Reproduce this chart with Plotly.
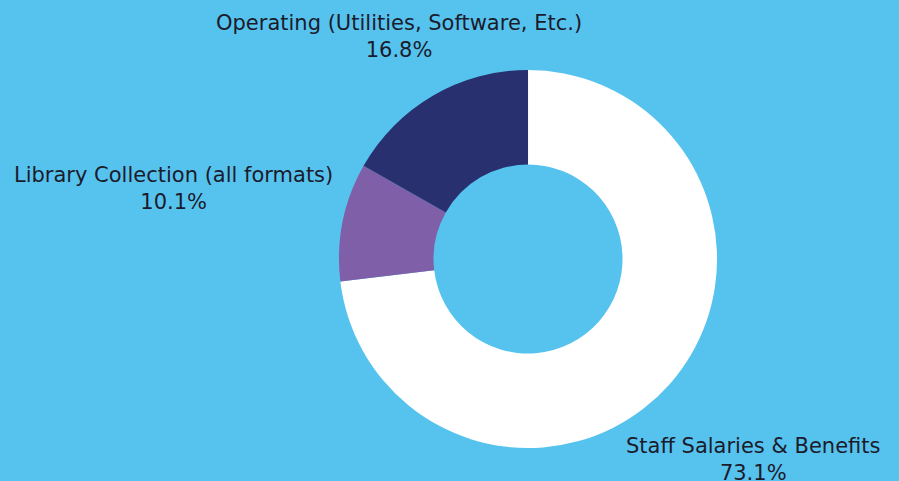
import plotly.graph_objects as go

labels = ["Staff Salaries & Benefits", "Library Collection (all formats)", "Operating (Utilities, Software, Etc.)"]
values = [73.1, 10.1, 16.8]
colors = ["#FFFFFF", "#7F5FA8", "#283070"]

# label placement (paper coords) and anchors for each slice label
label_x = [0.694, 0.3726, 0.444]
label_y = [0.0457, 0.609, 0.925]
label_anchor = ["left", "right", "center"]

fig = go.Figure(go.Pie(
    labels=labels, values=values, hole=0.5, sort=False, direction="clockwise", rotation=0,
    marker=dict(colors=colors, line=dict(width=0)),
    textposition="none",
    domain=dict(x=[0.3771, 0.7976], y=[0.0686, 0.8545]),
    showlegend=False, hoverinfo="skip"
))
total = sum(values)
for lab, v, x, y, a in zip(labels, values, label_x, label_y, label_anchor):
    fig.add_annotation(
        x=x, y=y, xref="paper", yref="paper", xanchor=a, yanchor="middle",
        text=f"{lab}<br>{v / total * 100:.1f}%", showarrow=False, align="center",
        font=dict(family="DejaVu Sans", size=21, color="#1b1b2b"),
    )
fig.update_layout(
    width=899, height=481, paper_bgcolor="#56C3EF", plot_bgcolor="#56C3EF",
    margin=dict(l=0, r=0, t=0, b=0),
)
fig.write_html("out.html", post_script="document.body.style.margin='0px';",
               config={"displayModeBar": False})
